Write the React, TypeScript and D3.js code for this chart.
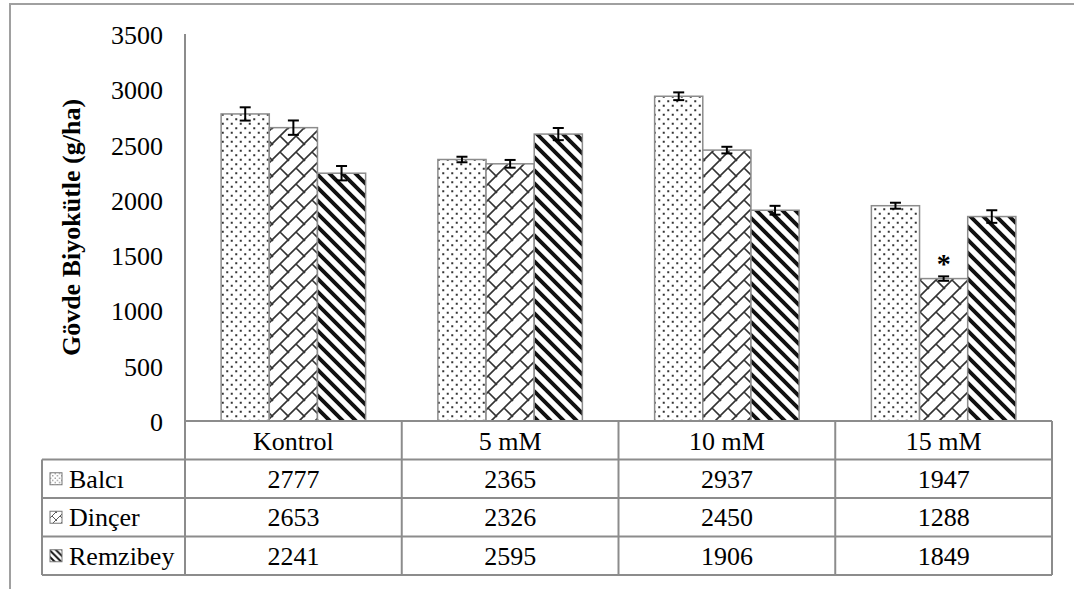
import React, { useRef, useEffect } from 'react';
import * as d3 from 'd3';

const categories = ['Kontrol', '5 mM', '10 mM', '15 mM'];
const seriesNames = ['Balcı', 'Dinçer', 'Remzibey'];
const balci = [2777, 2365, 2937, 1947];
const dincer = [2653, 2326, 2450, 1288];
const remzibey = [2241, 2595, 1906, 1849];
// error bar half-lengths
const balciErr = [60, 25, 35, 27];
const dincerErr = [65, 35, 30, 20];
const remzibeyErr = [65, 55, 40, 57];
const yTicks = [0, 500, 1000, 1500, 2000, 2500, 3000, 3500];
const yTitle = 'Gövde Biyokütle (g/ha)';
const starMarks = [{ category: '15 mM', series: 'Dinçer', label: '*' }];

const values = [balci, dincer, remzibey];
const errors = [balciErr, dincerErr, remzibeyErr];
const patternIds = ['pDots', 'pBrick', 'pStripe'];

const FONT = 'Liberation Serif';
const FS = 26;
const GRID = '#8c8c8c';

export default function App() {
  const ref = useRef<SVGSVGElement>(null);

  useEffect(() => {
    if (!ref.current) return;
    drawChart(ref.current);
  }, []);

  return (
    <div style={{ position: 'absolute', left: 0, top: 0 }}>
      <svg ref={ref} width={1074} height={589} style={{ display: 'block', background: '#fff' }} />
    </div>
  );
}

function addPatterns(defs: d3.Selection<SVGDefsElement, unknown, null, undefined>, suffix: string, k: number) {
  // dotted
  const sd = 9 * k;
  const dots = defs.append('pattern')
    .attr('id', 'pDots' + suffix)
    .attr('patternUnits', 'userSpaceOnUse')
    .attr('width', sd).attr('height', sd);
  dots.append('rect').attr('width', sd).attr('height', sd).attr('fill', '#fff');
  const d = 2 * k;
  dots.append('rect').attr('x', sd * 0.25 - d / 2).attr('y', sd * 0.25 - d / 2).attr('width', d).attr('height', d).attr('fill', '#333');
  dots.append('rect').attr('x', sd * 0.75 - d / 2).attr('y', sd * 0.75 - d / 2).attr('width', d).attr('height', d).attr('fill', '#333');

  // diagonal brick
  const s = 16 * k;
  const brick = defs.append('pattern')
    .attr('id', 'pBrick' + suffix)
    .attr('patternUnits', 'userSpaceOnUse')
    .attr('width', s).attr('height', s);
  brick.append('rect').attr('width', s).attr('height', s).attr('fill', '#fff');
  brick.append('path')
    .attr('d', `M-1,${s + 1}L${s + 1},-1 M${s / 2},${s / 2}L${s + 1},${s + 1} M-1,-1L1,1`)
    .attr('stroke', '#333')
    .attr('stroke-width', 1.6 * k)
    .attr('fill', 'none');

  // wide downward diagonal
  const st = 13 * k;
  const stripe = defs.append('pattern')
    .attr('id', 'pStripe' + suffix)
    .attr('patternUnits', 'userSpaceOnUse')
    .attr('width', st).attr('height', st);
  stripe.append('rect').attr('width', st).attr('height', st).attr('fill', '#fff');
  stripe.append('path')
    .attr('d', `M-3,-3L${st + 3},${st + 3} M${-st - 3},-3L3,${st + 3} M${st - 3},-3L${2 * st + 3},${st + 3}`)
    .attr('stroke', '#111')
    .attr('stroke-width', st * 0.3)
    .attr('fill', 'none');
}

function drawChart(svgElement: SVGSVGElement) {
  const svg = d3.select(svgElement);
  svg.selectAll('*').remove();

  const defs = svg.append('defs');
  addPatterns(defs, '', 1);
  addPatterns(defs, 'Key', 0.5);

  const plotLeft = 185;
  const plotRight = 1052;
  const plotTop = 34;
  const baseY = 421;
  const tableLeft = 42;
  const rowH = 38.5;

  // outer chart frame (cropped)
  svg.append('path')
    .attr('d', 'M10,589V4H1074')
    .attr('stroke', '#a0a0a0')
    .attr('stroke-width', 2)
    .attr('fill', 'none');

  const x0 = d3.scaleBand().domain(categories).range([plotLeft, plotRight]);
  const bw = x0.bandwidth();
  const barW = bw / (seriesNames.length + 1.5);
  const x1 = d3.scaleBand()
    .domain(seriesNames)
    .range([(bw - barW * 3) / 2, (bw + barW * 3) / 2]);
  const y = d3.scaleLinear().domain([0, 3500]).range([baseY, plotTop]);

  // y tick labels
  svg.append('g')
    .selectAll('text')
    .data(yTicks)
    .enter()
    .append('text')
    .attr('x', 163)
    .attr('y', (d) => y(d) + 10)
    .attr('text-anchor', 'end')
    .attr('font-family', FONT)
    .attr('font-size', FS)
    .text((d) => String(d));

  // y title
  svg.append('text')
    .attr('transform', `translate(80,${(plotTop + baseY) / 2}) rotate(-90)`)
    .attr('text-anchor', 'middle')
    .attr('font-family', FONT)
    .attr('font-size', 26)
    .attr('font-weight', 'bold')
    .text(yTitle);

  // bars
  const bars = svg.append('g');
  seriesNames.forEach((s, si) => {
    bars.selectAll(null)
      .data(categories)
      .enter()
      .append('rect')
      .attr('x', (c) => x0(c)! + x1(s)!)
      .attr('y', (c, i) => y(values[si][i]))
      .attr('width', x1.bandwidth())
      .attr('height', (c, i) => baseY - y(values[si][i]))
      .attr('fill', `url(#${patternIds[si]})`)
      .attr('stroke', GRID)
      .attr('stroke-width', 1.5);
  });

  // error bars
  const errG = svg.append('g').attr('stroke', '#000').attr('stroke-width', 2);
  seriesNames.forEach((s, si) => {
    categories.forEach((c, i) => {
      const cx = x0(c)! + x1(s)! + x1.bandwidth() / 2;
      const hi = y(values[si][i] + errors[si][i]);
      const lo = y(values[si][i] - errors[si][i]);
      errG.append('line').attr('x1', cx).attr('x2', cx).attr('y1', hi).attr('y2', lo);
      errG.append('line').attr('x1', cx - 5.5).attr('x2', cx + 5.5).attr('y1', hi).attr('y2', hi);
      errG.append('line').attr('x1', cx - 5.5).attr('x2', cx + 5.5).attr('y1', lo).attr('y2', lo);
    });
  });

  // significance marks
  starMarks.forEach((m) => {
    const si = seriesNames.indexOf(m.series);
    const ci = categories.indexOf(m.category);
    const cx = x0(m.category)! + x1(m.series)! + x1.bandwidth() / 2;
    svg.append('text')
      .attr('x', cx)
      .attr('y', y(values[si][ci] + errors[si][ci]) - 3)
      .attr('text-anchor', 'middle')
      .attr('font-family', FONT)
      .attr('font-size', 28)
      .attr('font-weight', 'bold')
      .text(m.label);
  });

  // data table
  const tableBottom = baseY + rowH * (seriesNames.length + 1);
  const lines = svg.append('g').attr('stroke', GRID).attr('stroke-width', 2);
  lines.append('line').attr('x1', plotLeft).attr('x2', plotLeft).attr('y1', plotTop).attr('y2', tableBottom);
  lines.append('line').attr('x1', plotLeft).attr('x2', plotRight).attr('y1', baseY).attr('y2', baseY);
  d3.range(1, seriesNames.length + 2).forEach((r) => {
    const yy = baseY + r * rowH;
    lines.append('line').attr('x1', tableLeft).attr('x2', plotRight).attr('y1', yy).attr('y2', yy);
  });
  lines.append('line').attr('x1', tableLeft).attr('x2', tableLeft).attr('y1', baseY + rowH).attr('y2', tableBottom);
  categories.forEach((c) => {
    const xx = x0(c)! + bw;
    lines.append('line').attr('x1', xx).attr('x2', xx).attr('y1', baseY).attr('y2', tableBottom);
  });

  const txt = svg.append('g').attr('font-family', FONT).attr('font-size', FS).attr('text-anchor', 'middle');
  categories.forEach((c) => {
    txt.append('text').attr('x', x0(c)! + bw / 2).attr('y', baseY + rowH / 2 + 10).text(c);
  });
  seriesNames.forEach((s, si) => {
    const cy = baseY + (si + 1.5) * rowH;
    categories.forEach((c, i) => {
      txt.append('text').attr('x', x0(c)! + bw / 2).attr('y', cy + 9).text(String(values[si][i]));
    });
    svg.append('rect')
      .attr('x', 50).attr('y', cy - 6)
      .attr('width', 12).attr('height', 12)
      .attr('fill', `url(#${patternIds[si]}Key)`)
      .attr('stroke', '#777')
      .attr('stroke-width', 1);
    svg.append('text')
      .attr('x', 69).attr('y', cy + 9)
      .attr('font-family', FONT)
      .attr('font-size', FS)
      .text(s);
  });
}
